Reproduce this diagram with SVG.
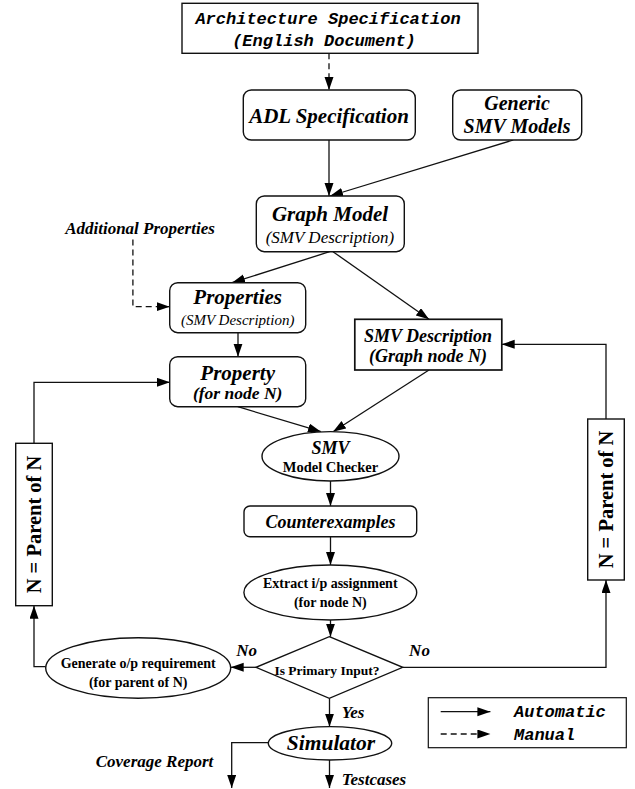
<svg xmlns="http://www.w3.org/2000/svg" width="635" height="789" viewBox="0 0 635 789">
<defs>
<marker id="ah" markerUnits="userSpaceOnUse" markerWidth="14" markerHeight="10" refX="13" refY="4.5" orient="auto">
<path d="M0,0 L13,4.5 L0,9 z" fill="#000"/>
</marker>
<style>
.box{fill:#fff;stroke:#111;stroke-width:1.4}
.ln{fill:none;stroke:#111;stroke-width:1.3;marker-end:url(#ah)}
.ds{stroke-dasharray:6 4}
.tbi{font-family:"Liberation Serif","Times New Roman",serif;font-weight:bold;font-style:italic;fill:#000;text-anchor:middle}
.ti{font-family:"Liberation Serif","Times New Roman",serif;font-style:italic;fill:#000;text-anchor:middle}
.tb{font-family:"Liberation Serif","Times New Roman",serif;font-weight:bold;fill:#000;text-anchor:middle}
.st{text-anchor:start}
.mono{font-family:"Liberation Mono","Courier New",monospace;font-weight:bold;font-style:italic;fill:#000}
</style>
</defs>
<rect width="635" height="789" fill="#fff"/>

<g id="connectors">
<path class="ln ds" d="M329,53.3 L329,90"/>
<path class="ln" d="M329,140 L329,196"/>
<path class="ln" d="M513.3,140 L330,196"/>
<path class="ln" d="M329.6,251.7 L232,282.7"/>
<path class="ln" d="M333,251.7 L429,319.3"/>
<path class="ln ds" d="M132.9,239.5 L132.9,306.7 L169.7,306.7"/>
<path class="ln" d="M238,332.7 L238,356.7"/>
<path class="ln" d="M237.8,406.7 L321,431.7"/>
<path class="ln" d="M429,370 L333,431.7"/>
<path class="ln" d="M330.5,481 L330.5,506"/>
<path class="ln" d="M330.5,536.7 L330.5,565"/>
<path class="ln" d="M330.5,620 L330.5,636.7"/>
<path class="ln" d="M256,667.3 L230.7,667.3"/>
<path class="ln" d="M45.7,666.7 L34,666.7 L34,605.7"/>
<path class="ln" d="M34,443.3 L34,382.3 L170,382.3"/>
<path class="ln" d="M402.7,667.3 L606,667.3 L606,580"/>
<path class="ln" d="M606,419 L606,344.3 L501.7,344.3"/>
<path class="ln" d="M329.5,698.3 L329.5,726.7"/>
<path class="ln" d="M268.3,742.7 L231.7,742.7 L231.7,788"/>
<path class="ln" d="M329.5,760 L329.5,788"/>
</g>

<g id="arch">
<rect class="box" x="182" y="3.3" width="296" height="50"/>
<text class="mono" x="328" y="24" font-size="17" text-anchor="middle">Architecture Specification</text>
<text class="mono" x="324" y="46" font-size="17" text-anchor="middle">(English Document)</text>
</g>

<g id="adl">
<rect class="box" x="243.3" y="90" width="172" height="50" rx="8"/>
<text class="tbi" x="329" y="122.7" font-size="21">ADL Specification</text>
</g>

<g id="generic">
<rect class="box" x="452.7" y="90" width="129" height="50" rx="8"/>
<text class="tbi" x="517" y="109.6" font-size="20">Generic</text>
<text class="tbi" x="517" y="132.6" font-size="20">SMV Models</text>
</g>

<g id="graph">
<rect class="box" x="256.3" y="196" width="148" height="55.7" rx="8"/>
<text class="tbi" x="330" y="221" font-size="21">Graph Model</text>
<text class="ti" x="330" y="242.5" font-size="17">(SMV Description)</text>
</g>

<g id="additional">
<text class="tbi" x="140" y="234" font-size="17">Additional Properties</text>
</g>

<g id="properties">
<rect class="box" x="169.7" y="282.7" width="136" height="50" rx="8"/>
<text class="tbi" x="237.7" y="304.3" font-size="21">Properties</text>
<text class="ti" x="237.7" y="325.2" font-size="15">(SMV Description)</text>
</g>

<g id="smvdesc">
<rect class="box" x="354.8" y="319.3" width="147" height="50.7" style="stroke-width:1.7"/>
<text class="tbi" x="428" y="341.5" font-size="18">SMV Description</text>
<text class="tbi" x="428" y="361.8" font-size="18">(Graph node N)</text>
</g>

<g id="property">
<rect class="box" x="169.7" y="356.7" width="136" height="50" rx="8"/>
<text class="tbi" x="237.7" y="379.7" font-size="21">Property</text>
<text class="tbi" x="237.7" y="398.7" font-size="17.5">(for node N)</text>
</g>

<g id="smv">
<ellipse class="box" cx="330.5" cy="456.3" rx="68.5" ry="24.7"/>
<text class="tbi" x="330.5" y="453.5" font-size="18">SMV</text>
<text class="tb" x="330.5" y="471.5" font-size="14.5">Model Checker</text>
</g>

<g id="counter">
<rect class="box" x="244" y="506" width="172.7" height="30.7" rx="6"/>
<text class="tbi" x="330.5" y="527.8" font-size="18">Counterexamples</text>
</g>

<g id="extract">
<ellipse class="box" cx="330.3" cy="592.5" rx="86.4" ry="27.5"/>
<text class="tb" x="330.3" y="588" font-size="14">Extract i/p assignment</text>
<text class="tb" x="330.3" y="607" font-size="14">(for node N)</text>
</g>

<g id="decision">
<polygon class="box" points="329.3,636.7 402.7,667.3 329.3,698.3 256,667.3"/>
<text class="tb" x="327" y="675.2" font-size="13.5">Is Primary Input?</text>
<text class="tbi" x="246.7" y="655.8" font-size="17">No</text>
<text class="tbi" x="419.5" y="655.8" font-size="17">No</text>
<text class="tbi st" x="341.7" y="717.5" font-size="17">Yes</text>
</g>

<g id="generate">
<ellipse class="box" cx="138.2" cy="668" rx="92.5" ry="30.3"/>
<text class="tb" x="138.2" y="668" font-size="14">Generate o/p requirement</text>
<text class="tb" x="138.2" y="687.4" font-size="14">(for parent of N)</text>
</g>

<g id="parentL">
<rect class="box" x="15.7" y="443.3" width="36.6" height="162.4"/>
<text class="tb" transform="translate(40.8,524.5) rotate(-90)" x="0" y="0" font-size="20.5">N = Parent of N</text>
</g>

<g id="parentR">
<rect class="box" x="587.7" y="419" width="36.6" height="161"/>
<text class="tb" transform="translate(612.8,499.5) rotate(-90)" x="0" y="0" font-size="20.5">N = Parent of N</text>
</g>

<g id="simulator">
<ellipse class="box" cx="330" cy="743.3" rx="61.7" ry="16.7"/>
<text class="tbi" x="331" y="750" font-size="21.5">Simulator</text>
</g>

<g id="outputs">
<text class="tbi" x="154.5" y="767.3" font-size="17">Coverage Report</text>
<text class="tbi st" x="341.7" y="785" font-size="17">Testcases</text>
</g>

<g id="legend">
<rect class="box" x="428.3" y="697.7" width="198" height="50" style="stroke-width:1.2"/>
<path class="ln" d="M440.7,711.7 L490.4,711.7"/>
<path class="ln ds" d="M440.7,734 L490.4,734"/>
<text class="mono" x="514" y="717.3" font-size="17">Automatic</text>
<text class="mono" x="514" y="739.6" font-size="17">Manual</text>
</g>
</svg>
